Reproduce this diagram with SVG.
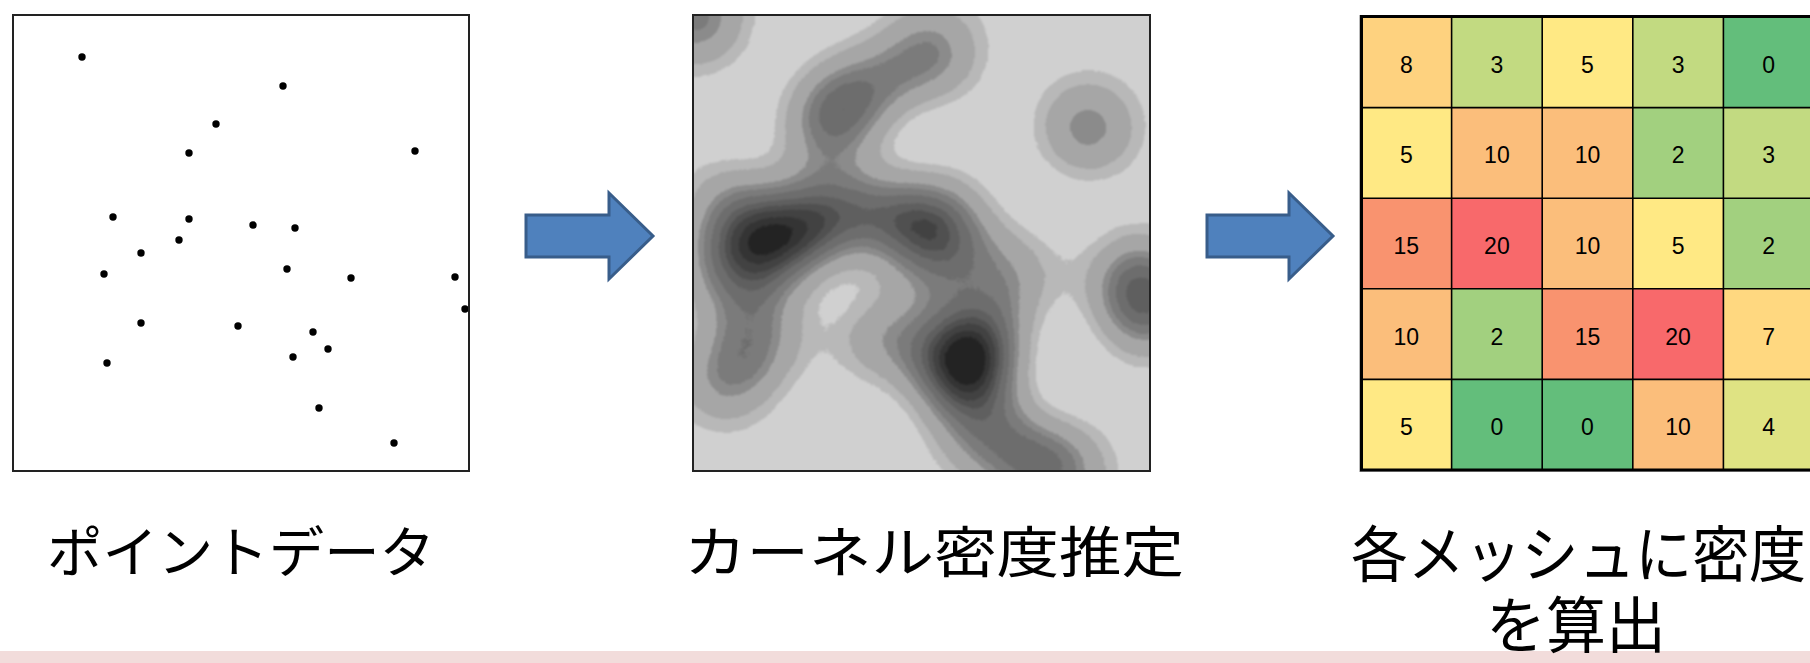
<svg xmlns="http://www.w3.org/2000/svg" width="1810" height="663" viewBox="0 0 1810 663">
  <style>
    .frame { fill: none; stroke: #222; stroke-width: 2; }
    .pt { fill: #000; }
    .cap { font-family: "Noto Sans CJK JP", "Noto Sans CJK SC", sans-serif; fill: #000; }
    .num { font-family: "Liberation Sans", Arial, sans-serif; font-size: 23px; fill: #000; text-anchor: middle; }
    .cellline { stroke: #000; stroke-width: 1.6; fill: none; }
    .arrow { fill: #4F81BD; stroke: #385D8A; stroke-width: 3; stroke-linejoin: miter; }
    .kg, .kb { mix-blend-mode: screen; }
  </style>
  <defs>
    <clipPath id="kdeClip"><rect x="693" y="15" width="457" height="456"/></clipPath>
    <filter id="kde" filterUnits="userSpaceOnUse" x="500" y="-180" width="850" height="850" color-interpolation-filters="sRGB">
      <feGaussianBlur in="SourceGraphic" stdDeviation="34.9" result="b1"/>
      <feGaussianBlur in="SourceGraphic" stdDeviation="50.8" result="b2"/>
      <feColorMatrix in="b1" type="matrix" values="0.9896 0.9896 0.9896 0 0  0.9896 0.9896 0.9896 0 0  0.9896 0.9896 0.9896 0 0  0 0 0 0 1" result="s1"/>
      <feColorMatrix in="b2" type="matrix" values="-0.5515 -0.5515 -0.5515 0 1  -0.5515 -0.5515 -0.5515 0 1  -0.5515 -0.5515 -0.5515 0 1  0 0 0 0 1" result="s2"/>
      <feComposite in="s1" in2="s2" operator="arithmetic" k1="0" k2="1.8" k3="1.8" k4="-1.8" result="d"/>
      <feComponentTransfer in="d" result="q">
        <feFuncR type="discrete" tableValues="0.816 0.816 0.816 0.816 0.816 0.816 0.816 0.816 0.816 0.722 0.722 0.722 0.722 0.722 0.722 0.722 0.722 0.722 0.651 0.651 0.651 0.651 0.651 0.651 0.651 0.651 0.651 0.651 0.651 0.651 0.651 0.651 0.651 0.651 0.651 0.549 0.549 0.549 0.549 0.549 0.549 0.549 0.486 0.486 0.486 0.486 0.486 0.486 0.486 0.486 0.486 0.431 0.431 0.431 0.431 0.431 0.431 0.431 0.431 0.431 0.431 0.376 0.376 0.376 0.376 0.376 0.376 0.376 0.314 0.314 0.314 0.314 0.314 0.314 0.259 0.259 0.259 0.259 0.259 0.259 0.259 0.204 0.204 0.204 0.204 0.204 0.204 0.141 0.141 0.141 0.141 0.141 0.141 0.141 0.141 0.141 0.141 0.141 0.141 0.141"/>
        <feFuncG type="discrete" tableValues="0.816 0.816 0.816 0.816 0.816 0.816 0.816 0.816 0.816 0.722 0.722 0.722 0.722 0.722 0.722 0.722 0.722 0.722 0.651 0.651 0.651 0.651 0.651 0.651 0.651 0.651 0.651 0.651 0.651 0.651 0.651 0.651 0.651 0.651 0.651 0.549 0.549 0.549 0.549 0.549 0.549 0.549 0.486 0.486 0.486 0.486 0.486 0.486 0.486 0.486 0.486 0.431 0.431 0.431 0.431 0.431 0.431 0.431 0.431 0.431 0.431 0.376 0.376 0.376 0.376 0.376 0.376 0.376 0.314 0.314 0.314 0.314 0.314 0.314 0.259 0.259 0.259 0.259 0.259 0.259 0.259 0.204 0.204 0.204 0.204 0.204 0.204 0.141 0.141 0.141 0.141 0.141 0.141 0.141 0.141 0.141 0.141 0.141 0.141 0.141"/>
        <feFuncB type="discrete" tableValues="0.816 0.816 0.816 0.816 0.816 0.816 0.816 0.816 0.816 0.722 0.722 0.722 0.722 0.722 0.722 0.722 0.722 0.722 0.651 0.651 0.651 0.651 0.651 0.651 0.651 0.651 0.651 0.651 0.651 0.651 0.651 0.651 0.651 0.651 0.651 0.549 0.549 0.549 0.549 0.549 0.549 0.549 0.486 0.486 0.486 0.486 0.486 0.486 0.486 0.486 0.486 0.431 0.431 0.431 0.431 0.431 0.431 0.431 0.431 0.431 0.431 0.376 0.376 0.376 0.376 0.376 0.376 0.376 0.314 0.314 0.314 0.314 0.314 0.314 0.259 0.259 0.259 0.259 0.259 0.259 0.259 0.204 0.204 0.204 0.204 0.204 0.204 0.141 0.141 0.141 0.141 0.141 0.141 0.141 0.141 0.141 0.141 0.141 0.141 0.141"/>
      </feComponentTransfer>
      <feGaussianBlur in="q" stdDeviation="1"/>
    </filter>
  </defs>

  <rect x="0" y="0" width="1810" height="663" fill="#fff"/>

  <!-- Panel 1: point data -->
  <g id="panel-points">
    <rect x="13" y="15" width="456" height="456" fill="#fff"/>
    <g class="pt">
      <circle cx="82" cy="57" r="3.7"/>
      <circle cx="283" cy="86" r="3.7"/>
      <circle cx="216" cy="124" r="3.7"/>
      <circle cx="189" cy="153" r="3.7"/>
      <circle cx="415" cy="151" r="3.7"/>
      <circle cx="113" cy="217" r="3.7"/>
      <circle cx="189" cy="219" r="3.7"/>
      <circle cx="253" cy="225" r="3.7"/>
      <circle cx="295" cy="228" r="3.7"/>
      <circle cx="179" cy="240" r="3.7"/>
      <circle cx="141" cy="253" r="3.7"/>
      <circle cx="104" cy="274" r="3.7"/>
      <circle cx="287" cy="269" r="3.7"/>
      <circle cx="351" cy="278" r="3.7"/>
      <circle cx="455" cy="277" r="3.7"/>
      <circle cx="465" cy="309" r="3.7"/>
      <circle cx="141" cy="323" r="3.7"/>
      <circle cx="238" cy="326" r="3.7"/>
      <circle cx="313" cy="332" r="3.7"/>
      <circle cx="328" cy="349" r="3.7"/>
      <circle cx="293" cy="357" r="3.7"/>
      <circle cx="107" cy="363" r="3.7"/>
      <circle cx="319" cy="408" r="3.7"/>
      <circle cx="394" cy="443" r="3.7"/>
    </g>
    <rect class="frame" x="13" y="15" width="456" height="456"/>
  </g>

  <!-- Panel 2: kernel density estimate -->
  <g id="panel-kde">
    <g clip-path="url(#kdeClip)">
      <g filter="url(#kde)">
        <rect x="500" y="-180" width="850" height="850" fill="#000"/>
        <g fill="#f00">
          <circle cx="697" cy="18" r="32.2"/>
          <circle cx="933" cy="52" r="30"/>
          <circle cx="854" cy="97" r="30"/>
          <circle cx="828" cy="210" r="30"/>
          <circle cx="766" cy="248" r="30"/>
          <circle cx="898" cy="215" r="30"/>
          <circle cx="938" cy="267" r="30"/>
          <circle cx="1013" cy="277" r="30"/>
          <circle cx="1135" cy="276" r="30"/>
          <circle cx="766" cy="330" r="30"/>
          <circle cx="880" cy="334" r="30"/>
          <circle cx="968" cy="341" r="30"/>
          <circle cx="726" cy="377" r="30"/>
          <circle cx="975" cy="430" r="30"/>
          <circle cx="1063" cy="471" r="30"/>
          <circle cx="1088" cy="128" r="30"/>
        </g>
        <g class="kg" fill="#0f0">
          <circle cx="823" cy="131" r="30"/>
          <circle cx="798" cy="236" r="30"/>
          <circle cx="733" cy="206" r="30"/>
          <circle cx="723" cy="273" r="30"/>
          <circle cx="947" cy="219" r="30"/>
          <circle cx="1147" cy="314" r="30"/>
          <circle cx="986" cy="361" r="30"/>
          <circle cx="893" cy="74" r="30" fill="#005900"/>
          <circle cx="865" cy="222" r="30" fill="#007300"/>
          <circle cx="1020" cy="455" r="30" fill="#00cc00"/>
        </g>
        <g class="kb" fill="#00f">
          <circle cx="945" cy="370" r="30"/>
        </g>
      </g>
    </g>
    <rect class="frame" x="693" y="15" width="457" height="456"/>
  </g>

  <!-- Panel 3: mesh grid -->
  <g id="panel-grid">
    <rect x="1359.5" y="15.5" width="460" height="456" fill="none" stroke="#bbb" stroke-width="1"/>
    <g>
      <rect x="1361" y="17" width="90.6" height="90.6" fill="#FED27F"/>
      <rect x="1451.6" y="17" width="90.6" height="90.6" fill="#C2DA81"/>
      <rect x="1542.2" y="17" width="90.6" height="90.6" fill="#FFE984"/>
      <rect x="1632.8" y="17" width="90.6" height="90.6" fill="#C2DA81"/>
      <rect x="1723.4" y="17" width="90.6" height="90.6" fill="#63BE7B"/>

      <rect x="1361" y="107.6" width="90.6" height="90.6" fill="#FFE984"/>
      <rect x="1451.6" y="107.6" width="90.6" height="90.6" fill="#FBBE7B"/>
      <rect x="1542.2" y="107.6" width="90.6" height="90.6" fill="#FBBE7B"/>
      <rect x="1632.8" y="107.6" width="90.6" height="90.6" fill="#A2D07F"/>
      <rect x="1723.4" y="107.6" width="90.6" height="90.6" fill="#C2DA81"/>

      <rect x="1361" y="198.2" width="90.6" height="90.6" fill="#F9936F"/>
      <rect x="1451.6" y="198.2" width="90.6" height="90.6" fill="#F8696B"/>
      <rect x="1542.2" y="198.2" width="90.6" height="90.6" fill="#FBBE7B"/>
      <rect x="1632.8" y="198.2" width="90.6" height="90.6" fill="#FFE984"/>
      <rect x="1723.4" y="198.2" width="90.6" height="90.6" fill="#A2D07F"/>

      <rect x="1361" y="288.8" width="90.6" height="90.6" fill="#FBBE7B"/>
      <rect x="1451.6" y="288.8" width="90.6" height="90.6" fill="#A2D07F"/>
      <rect x="1542.2" y="288.8" width="90.6" height="90.6" fill="#F9936F"/>
      <rect x="1632.8" y="288.8" width="90.6" height="90.6" fill="#F8696B"/>
      <rect x="1723.4" y="288.8" width="90.6" height="90.6" fill="#FFD880"/>

      <rect x="1361" y="379.4" width="90.6" height="90.6" fill="#FFE984"/>
      <rect x="1451.6" y="379.4" width="90.6" height="90.6" fill="#63BE7B"/>
      <rect x="1542.2" y="379.4" width="90.6" height="90.6" fill="#63BE7B"/>
      <rect x="1632.8" y="379.4" width="90.6" height="90.6" fill="#FBBE7B"/>
      <rect x="1723.4" y="379.4" width="90.6" height="90.6" fill="#DFE383"/>
    </g>
    <path class="cellline" d="M1451.6 17V470 M1542.2 17V470 M1632.8 17V470 M1723.4 17V470 M1361 107.6H1814 M1361 198.2H1814 M1361 288.8H1814 M1361 379.4H1814"/>
    <path d="M1814 16.5H1361.5V470H1814" fill="none" stroke="#000" stroke-width="3"/>
    <g class="num">
      <text x="1406.3" y="72.8">8</text>
      <text x="1496.9" y="72.8">3</text>
      <text x="1587.5" y="72.8">5</text>
      <text x="1678.1" y="72.8">3</text>
      <text x="1768.7" y="72.8">0</text>

      <text x="1406.3" y="163.4">5</text>
      <text x="1496.9" y="163.4">10</text>
      <text x="1587.5" y="163.4">10</text>
      <text x="1678.1" y="163.4">2</text>
      <text x="1768.7" y="163.4">3</text>

      <text x="1406.3" y="254">15</text>
      <text x="1496.9" y="254">20</text>
      <text x="1587.5" y="254">10</text>
      <text x="1678.1" y="254">5</text>
      <text x="1768.7" y="254">2</text>

      <text x="1406.3" y="344.6">10</text>
      <text x="1496.9" y="344.6">2</text>
      <text x="1587.5" y="344.6">15</text>
      <text x="1678.1" y="344.6">20</text>
      <text x="1768.7" y="344.6">7</text>

      <text x="1406.3" y="435.2">5</text>
      <text x="1496.9" y="435.2">0</text>
      <text x="1587.5" y="435.2">0</text>
      <text x="1678.1" y="435.2">10</text>
      <text x="1768.7" y="435.2">4</text>
    </g>
  </g>

  <!-- Connectors -->
  <g id="connectors">
    <polygon class="arrow" points="526,215 609,215 609,193 653,236 609,279 609,257 526,257"/>
    <polygon class="arrow" points="1207,215 1289,215 1289,193 1333,236 1289,279 1289,257 1207,257"/>
  </g>

  <!-- Bottom band -->
  <rect id="band" x="0" y="651" width="1810" height="12" fill="#F2DCDB"/>

  <!-- Labels -->
  <g id="labels">
    <text class="cap" x="47" y="572" font-size="55" textLength="388" lengthAdjust="spacingAndGlyphs">ポイントデータ</text>
    <text class="cap" x="684" y="572" font-size="55" textLength="500" lengthAdjust="spacingAndGlyphs">カーネル密度推定</text>
    <text class="cap" x="1351" y="577" font-size="61" textLength="455" lengthAdjust="spacingAndGlyphs">各メッシュに密度</text>
    <text class="cap" x="1486" y="648" font-size="61" textLength="180" lengthAdjust="spacingAndGlyphs">を算出</text>
  </g>
</svg>
